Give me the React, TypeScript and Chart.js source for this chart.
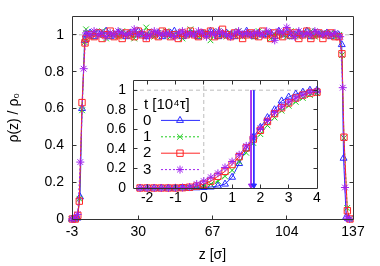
import React, { useEffect, useRef } from 'react';
import { Chart, registerables } from 'chart.js';
import { drawPoint } from 'chart.js/helpers';

Chart.register(...registerables);

const FONT = "'Liberation Sans', Arial, Helvetica, sans-serif";

// ---------- tick labels ----------
const mainXTicks = [-3, 30, 67, 104, 137];
const mainYTicks = [0, 0.2, 0.4, 0.6, 0.8, 1];
const insetXTicks = [-2, -1, 0, 1, 2, 3, 4];
const insetYTicks = [0, 0.2, 0.4, 0.6, 0.8, 1];

// ---------- legend ----------
const legendTitle = 't [10⁴τ]';
const seriesLabels = ['0', '1', '2', '3'];

// ---------- main plot data ----------
const zPlateau = [4, 6, 8, 10, 12, 14, 16, 18, 20, 22, 24, 26, 28, 30, 32, 34, 36, 38, 40, 42, 44, 46, 48, 50, 52, 54, 56, 58, 60, 62, 64, 66, 68, 70, 72, 74, 76, 78, 80, 82, 84, 86, 88, 90, 92, 94, 96, 98, 100, 102, 104, 106, 108, 110, 112, 114, 116, 118, 120, 122, 124, 126, 128];

const plateau0 = [1.00, 1.01, 0.99, 1.01, 1.00, 1.02, 0.99, 1.00, 1.01, 1.00,
  0.99, 1.01, 1.00, 1.02, 1.00, 0.99, 1.01, 1.00, 1.01, 0.99,
  1.00, 1.01, 1.02, 1.00, 0.99, 1.00, 1.01, 1.00, 0.99, 1.01,
  1.00, 1.02, 1.01, 0.99, 1.00, 1.01, 1.00, 0.99, 1.01, 1.00,
  1.02, 1.00, 0.99, 1.01, 1.00, 1.00, 1.01, 0.99, 1.02, 1.00,
  1.01, 0.99, 1.00, 1.01, 1.00, 1.02, 0.99, 1.01, 1.00, 1.00,
  1.01, 0.99, 1.00];
const plateau1 = [1.03, 0.99, 1.01, 1.00, 1.02, 0.98, 1.01, 1.00, 0.99, 1.02,
  1.01, 1.00, 0.98, 1.01, 1.00, 1.04, 1.00, 0.99, 1.01, 1.00,
  1.02, 0.99, 1.00, 1.01, 0.98, 1.00, 1.03, 1.01, 0.99, 1.00,
  1.01, 0.97, 1.00, 1.02, 1.00, 0.99, 1.01, 1.00, 1.02, 0.99,
  1.00, 1.01, 0.99, 1.02, 1.00, 1.01, 0.98, 1.00, 1.01, 1.00,
  0.99, 1.02, 1.00, 0.99, 1.01, 1.00, 1.02, 0.99, 1.00, 1.01,
  1.00, 1.01, 0.99];
const plateau2 = [0.98, 1.00, 0.99, 1.01, 0.98, 1.00, 1.02, 0.99, 1.00, 0.98,
  1.01, 1.00, 0.99, 1.02, 1.00, 0.98, 1.01, 1.00, 0.99, 1.02,
  1.01, 0.99, 1.00, 0.98, 1.01, 1.00, 1.02, 1.00, 0.99, 1.01,
  1.00, 1.02, 0.99, 1.00, 1.03, 1.00, 0.99, 1.01, 1.00, 0.98,
  1.00, 1.01, 1.00, 0.99, 1.02, 1.00, 0.98, 1.01, 1.00, 0.99,
  1.02, 1.00, 1.01, 0.98, 1.00, 1.02, 0.98, 1.00, 1.01, 0.98,
  1.00, 1.01, 0.99];
const plateau3 = [1.01, 1.00, 1.02, 1.00, 1.01, 0.99, 1.01, 1.00, 1.02, 1.01,
  1.00, 1.01, 1.03, 1.00, 1.01, 0.99, 1.00, 1.02, 1.01, 1.00,
  1.01, 1.00, 0.99, 1.01, 1.02, 1.00, 1.01, 1.00, 1.02, 1.01,
  0.99, 1.01, 1.00, 1.02, 1.01, 1.00, 0.99, 1.01, 1.02, 1.00,
  1.01, 1.00, 1.01, 1.01, 1.00, 1.02, 1.01, 0.97, 1.02, 1.01,
  1.04, 1.01, 0.99, 1.02, 1.00, 1.01, 1.00, 1.02, 1.01, 1.00,
  1.01, 1.00, 1.01];

const leftZ0 = [-3, -1.6, -0.3, 1.0, 2.0, 3.3];
const leftV0 = [0, 0, 0.005, 0.12, 0.6, 0.97];
const leftZ1 = [-3.2, -1.8, -0.4, 0.7, 2.0, 3.3];
const leftV1 = [0, 0, 0.01, 0.11, 0.59, 0.96];
const leftZ2 = [-2.8, -1.4, -0.1, 0.64, 2.0, 3.48];
const leftV2 = [0, 0, 0.02, 0.097, 0.632, 0.956];
const leftZ3 = [-3, -1.6, -0.2, 1.14, 2.83];
const leftV3 = [0, 0.003, 0.025, 0.309, 0.816];

const rightZ0 = [129.8, 131.4, 132.3, 133.6, 135.0];
const rightV0 = [1.0, 0.947, 0.33, 0.01, 0];
const rightZ1 = [130.2, 131.5, 132.5, 134.1, 135.3];
const rightV1 = [1.0, 0.89, 0.44, 0.06, 0];
const rightZ2 = [130.0, 131.5, 132.5, 134.2, 135.5];
const rightV2 = [0.99, 0.897, 0.444, 0.045, 0];
const rightZ3 = [130.6, 131.9, 133.0, 134.0, 135.3];
const rightV3 = [0.99, 0.713, 0.171, 0.005, 0];

const mainRefY = 1;

// ---------- inset data ----------
const xInset = [-2.25, -2, -1.75, -1.5, -1.25, -1, -0.75, -0.5, -0.25, 0, 0.25, 0.5, 0.75, 1, 1.25, 1.5, 1.75, 2, 2.25, 2.5, 2.75, 3, 3.25, 3.5, 3.75, 4];
const inset0 = [0, 0, 0, 0, 0, 0, 0, 0, 0.002, 0.005, 0.01, 0.02, 0.04, 0.11, 0.25, 0.40, 0.52, 0.62, 0.72, 0.80, 0.89, 0.93, 0.96, 0.98, 1.0, 1.0];
const inset1 = [0, 0, 0, 0, 0, 0, 0, 0.005, 0.01, 0.02, 0.04, 0.07, 0.12, 0.18, 0.27, 0.36, 0.46, 0.55, 0.64, 0.72, 0.79, 0.84, 0.88, 0.92, 0.95, 0.97];
const inset2 = [0, 0, 0, 0, 0, 0, 0.003, 0.008, 0.02, 0.04, 0.07, 0.12, 0.17, 0.24, 0.32, 0.41, 0.50, 0.59, 0.68, 0.76, 0.82, 0.87, 0.92, 0.95, 0.97, 0.98];
const inset3 = [0, 0, 0, 0, 0, 0.002, 0.005, 0.01, 0.04, 0.07, 0.11, 0.15, 0.21, 0.27, 0.34, 0.43, 0.52, 0.61, 0.69, 0.77, 0.83, 0.88, 0.92, 0.95, 0.98, 0.99];

const insetRefY = 1;
const insetRefX = 0;
const arrowX = [1.67, 1.77];
const arrowTop = 1;
const arrowBottom = 0.025;

// ---------- styles ----------
const colors = ['#2a2aff', '#1fcc1f', '#ff2525', '#a020f0'];
const pointStyles = ['triangle', 'crossRot', 'rect', 'star'];
const dashes: number[][] = [[], [2, 2], [], [2, 2]];
const radii = [4, 4, 4.5, 4];
const GRID = '#bdbdbd';

const pts = (xs: number[], ys: number[]) => xs.map((x, i) => ({ x, y: ys[i] }));

const mainSeries = [
  [...pts(leftZ0, leftV0), ...pts(zPlateau, plateau0), ...pts(rightZ0, rightV0)],
  [...pts(leftZ1, leftV1), ...pts(zPlateau, plateau1), ...pts(rightZ1, rightV1)],
  [...pts(leftZ2, leftV2), ...pts(zPlateau, plateau2), ...pts(rightZ2, rightV2)],
  [...pts(leftZ3, leftV3), ...pts(zPlateau, plateau3), ...pts(rightZ3, rightV3)],
];
const insetSeries = [inset0, inset1, inset2, inset3].map((v) => pts(xInset, v));

function seriesDataset(data: any[], i: number) {
  return {
    data,
    showLine: true,
    borderColor: colors[i],
    backgroundColor: 'rgba(0,0,0,0)',
    borderWidth: 1,
    borderDash: dashes[i],
    pointStyle: pointStyles[i],
    pointRadius: radii[i],
    pointBorderWidth: 1,
    pointBorderColor: colors[i],
    pointBackgroundColor: 'rgba(0,0,0,0)',
    tension: 0,
    clip: false,
    order: 3 - i,
  };
}

function refDataset(data: any[]) {
  return {
    data,
    showLine: true,
    borderColor: GRID,
    borderWidth: 1,
    borderDash: [4, 3],
    pointRadius: 0,
    order: 20,
  };
}

function makeFrame(tl: number) {
  return {
    id: 'frame' + tl,
    afterDraw(chart: any) {
      const { ctx, chartArea: a, scales } = chart;
      const L = Math.floor(a.left) + 0.5;
      const R = Math.floor(a.right) + 0.5;
      const T = Math.floor(a.top) + 0.5;
      const B = Math.floor(a.bottom) + 0.5;
      ctx.save();
      ctx.strokeStyle = '#333';
      ctx.lineWidth = 1;
      ctx.setLineDash([]);
      ctx.beginPath();
      ctx.rect(L, T, R - L, B - T);
      scales.x.ticks.forEach((t: any) => {
        const px = Math.floor(scales.x.getPixelForValue(t.value)) + 0.5;
        if (px <= L + 1 || px >= R - 1) return;
        ctx.moveTo(px, B); ctx.lineTo(px, B - tl);
        ctx.moveTo(px, T); ctx.lineTo(px, T + tl);
      });
      scales.y.ticks.forEach((t: any) => {
        const py = Math.floor(scales.y.getPixelForValue(t.value)) + 0.5;
        if (py <= T + 1 || py >= B - 1) return;
        ctx.moveTo(L, py); ctx.lineTo(L + tl, py);
        ctx.moveTo(R, py); ctx.lineTo(R - tl, py);
      });
      ctx.stroke();
      ctx.restore();
    },
  };
}

const whiteBg = {
  id: 'whiteBg',
  beforeDraw(chart: any) {
    const { ctx, chartArea: a } = chart;
    ctx.save();
    ctx.fillStyle = '#fff';
    ctx.fillRect(a.left, a.top, a.right - a.left, a.bottom - a.top);
    ctx.restore();
  },
};

const insetLegend = {
  id: 'insetLegend',
  afterDraw(chart: any) {
    const { ctx, chartArea: a } = chart;
    const x0 = a.left + 10;
    ctx.save();
    ctx.font = `15px ${FONT}`;
    ctx.fillStyle = '#000';
    ctx.textAlign = 'left';
    ctx.textBaseline = 'middle';
    ctx.fillText(legendTitle, x0 + 1, a.top + 24);
    seriesLabels.forEach((lab, i) => {
      const y = a.top + 40 + i * 16.4;
      ctx.fillStyle = '#000';
      ctx.fillText(lab, x0, y);
      ctx.strokeStyle = colors[i];
      ctx.lineWidth = 1;
      ctx.setLineDash(dashes[i]);
      ctx.beginPath();
      ctx.moveTo(x0 + 18, y);
      ctx.lineTo(x0 + 57, y);
      ctx.stroke();
      ctx.setLineDash([]);
      ctx.fillStyle = 'rgba(0,0,0,0)';
      drawPoint(ctx, { pointStyle: pointStyles[i], radius: radii[i], borderWidth: 1, rotation: 0 } as any, x0 + 37, y);
    });
    ctx.restore();
  },
};

const tickFont = { family: FONT, size: 14 };

function mainConfig(): any {
  return {
    type: 'scatter',
    data: {
      datasets: [
        ...mainSeries.map((d, i) => seriesDataset(d, i)),
        refDataset([{ x: mainXTicks[0], y: mainRefY }, { x: mainXTicks[mainXTicks.length - 1], y: mainRefY }]),
      ],
    },
    options: {
      responsive: false,
      animation: false,
      devicePixelRatio: 1,
      events: [],
      layout: { padding: { left: 0, right: 27, top: 15, bottom: 0 } },
      plugins: { legend: { display: false }, tooltip: { enabled: false } },
      scales: {
        x: {
          type: 'linear',
          min: -3,
          max: 137,
          afterBuildTicks: (s: any) => { s.ticks = mainXTicks.map((v) => ({ value: v })); },
          afterFit: (s: any) => { s.height = 47; },
          grid: { display: false, drawTicks: false },
          border: { display: false },
          ticks: { autoSkip: false, maxRotation: 0, padding: 5, color: '#000', font: tickFont, callback: (v: any) => String(v) },
          title: { display: true, text: 'z [σ]', color: '#000', font: tickFont, padding: { top: 0, bottom: 2 } },
        },
        y: {
          type: 'linear',
          min: 0,
          max: 1.1,
          afterBuildTicks: (s: any) => { s.ticks = mainYTicks.map((v) => ({ value: v })); },
          afterFit: (s: any) => { s.width = 72; },
          grid: { display: false, drawTicks: false },
          border: { display: false },
          ticks: { autoSkip: false, padding: 8, color: '#000', font: tickFont, callback: (v: any) => String(v) },
          title: { display: true, text: 'ρ(z) / ρ₀', color: '#000', font: tickFont, padding: { top: 6, bottom: 0 } },
        },
      },
    },
    plugins: [makeFrame(4)],
  };
}

function insetConfig(): any {
  const arrows = arrowX.map((ax, k) => ({
    data: [{ x: ax, y: arrowTop }, { x: ax, y: arrowBottom }],
    showLine: true,
    borderColor: k === 0 ? colors[3] : colors[0],
    borderWidth: 1,
    pointStyle: 'triangle',
    pointRotation: 180,
    pointRadius: [0, 3],
    pointBorderWidth: 1,
    pointBorderColor: k === 0 ? colors[3] : colors[0],
    pointBackgroundColor: k === 0 ? colors[3] : colors[0],
    clip: false,
    order: -1 - k,
  }));
  return {
    type: 'scatter',
    data: {
      datasets: [
        ...insetSeries.map((d, i) => seriesDataset(d, i)),
        refDataset([{ x: -2.5, y: insetRefY }, { x: 4, y: insetRefY }]),
        refDataset([{ x: insetRefX, y: 0 }, { x: insetRefX, y: 1.1 }]),
        ...arrows,
      ],
    },
    options: {
      responsive: false,
      animation: false,
      devicePixelRatio: 1,
      events: [],
      layout: { padding: { left: 0, right: 13, top: 8, bottom: 0 } },
      plugins: { legend: { display: false }, tooltip: { enabled: false } },
      scales: {
        x: {
          type: 'linear',
          min: -2.5,
          max: 4,
          afterBuildTicks: (s: any) => { s.ticks = insetXTicks.map((v) => ({ value: v })); },
          afterFit: (s: any) => { s.height = 27; },
          grid: { display: false, drawTicks: false },
          border: { display: false },
          ticks: { autoSkip: false, maxRotation: 0, padding: 2, color: '#000', font: tickFont, callback: (v: any) => String(v) },
        },
        y: {
          type: 'linear',
          min: 0,
          max: 1.1,
          afterBuildTicks: (s: any) => { s.ticks = insetYTicks.map((v) => ({ value: v })); },
          afterFit: (s: any) => { s.width = 43; },
          grid: { display: false, drawTicks: false },
          border: { display: false },
          ticks: { autoSkip: false, padding: 7, color: '#000', font: tickFont, callback: (v: any) => String(v) },
        },
      },
    },
    plugins: [whiteBg, makeFrame(4), insetLegend],
  };
}

export default function App() {
  const mainRef = useRef<HTMLCanvasElement>(null);
  const insetRef = useRef<HTMLCanvasElement>(null);
  useEffect(() => {
    const main = new Chart(mainRef.current as HTMLCanvasElement, mainConfig());
    const inset = new Chart(insetRef.current as HTMLCanvasElement, insetConfig());
    return () => {
      main.destroy();
      inset.destroy();
    };
  }, []);
  return (
    <div style={{ position: 'fixed', left: 0, top: 0, width: 380, height: 266, background: '#fff' }}>
      <canvas ref={mainRef} width={380} height={266} style={{ position: 'absolute', left: 0, top: 0, width: 380, height: 266 }} />
      <canvas ref={insetRef} width={240} height={150} style={{ position: 'absolute', left: 90, top: 65, width: 240, height: 150 }} />
    </div>
  );
}
